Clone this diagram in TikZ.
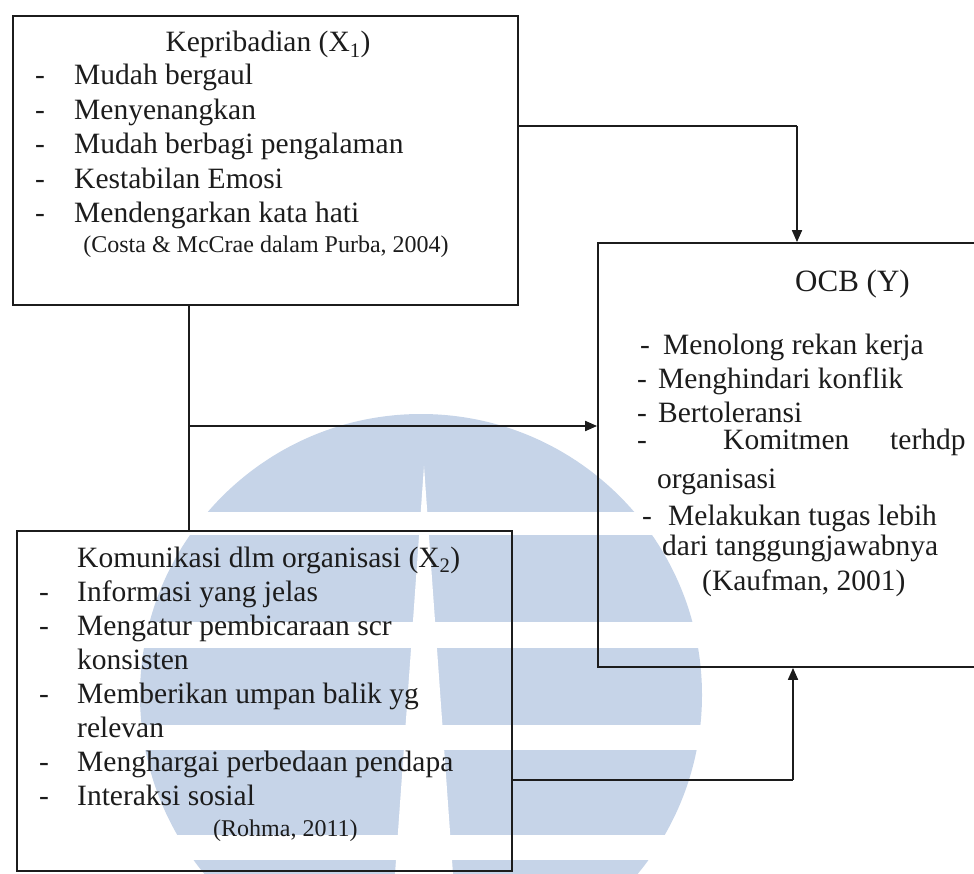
\documentclass[tikz,border=0pt]{standalone}
\usepackage{fontspec}
\setmainfont{Liberation Serif}
\usetikzlibrary{arrows.meta}
\definecolor{ink}{RGB}{28,28,28}
\definecolor{wmblue}{RGB}{198,212,232}
\tikzset{
  boxstyle/.style={draw=ink, line width=1.8pt, rectangle, inner sep=0pt},
  txt/.style={anchor=base west, inner sep=0pt, text=ink, font=\fontsize{29.5}{34}\selectfont},
  citetxt/.style={anchor=base west, inner sep=0pt, text=ink, font=\fontsize{24}{28}\selectfont},
  arr/.style={draw=ink, line width=1.8pt, -{Triangle[length=12pt,width=10pt]}},
  plainline/.style={draw=ink, line width=1.8pt},
}
\begin{document}
\begin{tikzpicture}[x=1pt,y=-1pt]
\useasboundingbox (0,0) rectangle (974,874);
\clip (0,0) rectangle (974,874);
% watermark
\fill[wmblue] (421,695) circle[radius=281pt];
\fill[white] (0,512) rectangle (974,535);
\fill[white] (0,622) rectangle (974,648);
\fill[white] (0,725) rectangle (974,750);
\fill[white] (0,835) rectangle (974,860);
\fill[white] (424,466) -- (453,874) -- (395,874) -- cycle;
% boxes
\node[boxstyle, minimum width=505pt, minimum height=289pt] (x1) at (265.5,160.5) {};
\node[boxstyle, minimum width=495pt, minimum height=340pt] (x2) at (264.5,701) {};
\node[boxstyle, minimum width=420pt, minimum height=424pt] (ocb) at (808,455) {};
% connectors
\coordinate (j1) at (797,126);
\coordinate (j2) at (189,426);
\coordinate (j3) at (793,780);
\draw[plainline] (x1.east |- j1) -- (j1);
\draw[arr] (j1) -- (j1 |- ocb.north);
\draw[plainline] (x1.south -| j2) -- (x2.north -| j2);
\draw[arr] (j2) -- (j2 -| ocb.west);
\draw[plainline] (x2.east |- j3) -- (j3);
\draw[arr] (j3) -- (j3 |- ocb.south);
% box 1 text
\node[txt, anchor=base] (k0) at (268,52) {Kepribadian (X\textsubscript{1})};
\node[txt] (kd1) at (35,85) {-};
\node[txt] (k1) at (74,85) {Mudah bergaul};
\node[txt] (kd2) at (35,119.5) {-};
\node[txt] (k2) at (74,119.5) {Menyenangkan};
\node[txt] (kd3) at (35,154) {-};
\node[txt] (k3) at (74,154) {Mudah berbagi pengalaman};
\node[txt] (kd4) at (35,188.5) {-};
\node[txt] (k4) at (74,188.5) {Kestabilan Emosi};
\node[txt] (kd5) at (35,223) {-};
\node[txt] (k5) at (74,223) {Mendengarkan kata hati};
\node[citetxt, anchor=base] (kc) at (266,253) {(Costa \& McCrae dalam Purba, 2004)};
% box 2 text
\node[txt] (m0) at (77,567) {Komunikasi dlm organisasi (X\textsubscript{2})};
\node[txt] (md1) at (39,601) {-};
\node[txt] (m1) at (77,601) {Informasi yang jelas};
\node[txt] (md2) at (39,635) {-};
\node[txt] (m2) at (77,635) {Mengatur pembicaraan scr};
\node[txt] (m2b) at (77,669) {konsisten};
\node[txt] (md3) at (39,703) {-};
\node[txt] (m3) at (77,703) {Memberikan umpan balik yg};
\node[txt] (m3b) at (77,737) {relevan};
\node[txt] (md4) at (39,771) {-};
\node[txt] (m4) at (77,771) {Menghargai perbedaan pendapa};
\node[txt] (md5) at (39,805) {-};
\node[txt] (m5) at (77,805) {Interaksi sosial};
\node[citetxt] (mc) at (213,836) {(Rohma, 2011)};
% OCB text
\node[txt, font=\fontsize{31}{36}\selectfont] (o0) at (795,292) {OCB (Y)};
\node[txt] (od1) at (640,355) {-};
\node[txt] (o1) at (663,355) {Menolong rekan kerja};
\node[txt] (od2) at (637,388) {-};
\node[txt] (o2) at (658,388) {Menghindari konflik};
\node[txt] (od3) at (637,422) {-};
\node[txt] (o3) at (658,422) {Bertoleransi};
\node[txt] (od4) at (637,449) {-};
\node[txt] (o4a) at (723,449) {Komitmen};
\node[txt] (o4b) at (890,449) {terhdp};
\node[txt] (o4c) at (657,488) {organisasi};
\node[txt] (od5) at (642,525) {-};
\node[txt] (o5) at (668,525) {Melakukan tugas lebih};
\node[txt] (o5b) at (662,555) {dari tanggungjawabnya};
\node[txt] (oc) at (702,590) {(Kaufman, 2001)};
\end{tikzpicture}
\end{document}
